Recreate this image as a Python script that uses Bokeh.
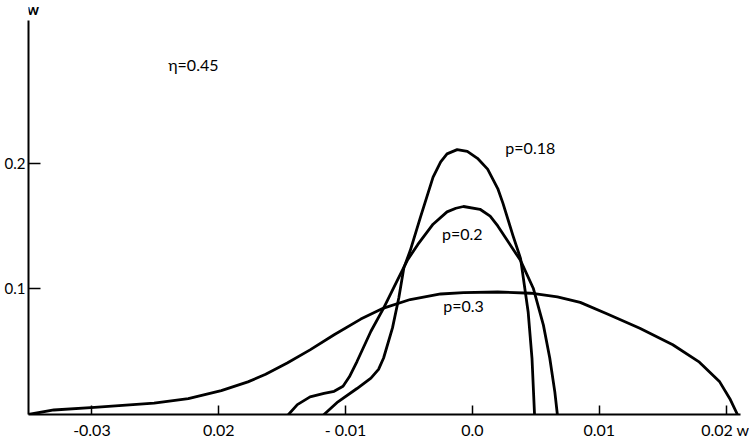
from bokeh.plotting import figure
from bokeh.models import Label, FixedTicker, Range1d
from bokeh.embed import file_html
from bokeh.resources import INLINE

# ---- data ----
x_ticks = [-0.03, -0.02, -0.01, 0.0, 0.01, 0.02]
x_tick_labels = ["-0.03", "0.02", "- 0.01", "0.0", "0.01", "0.02 w"]
y_ticks = [0.1, 0.2]
y_tick_labels = ["0.1", "0.2"]

x_p03 = [-0.0350, -0.0330, -0.0298, -0.0251, -0.0224, -0.0198, -0.0177, -0.0163,
         -0.0146, -0.0128, -0.0109, -0.0088, -0.0070, -0.0049, -0.0025, -0.0007,
         0.0020, 0.0046, 0.0067, 0.0085, 0.0106, 0.0132, 0.0158, 0.0179, 0.0195,
         0.0203, 0.0209]
y_p03 = [0.0, 0.0036, 0.0057, 0.0090, 0.0127, 0.0190, 0.0260, 0.0320,
         0.0410, 0.0515, 0.0635, 0.0760, 0.0848, 0.0916, 0.0960, 0.0971,
         0.0976, 0.0966, 0.0937, 0.0893, 0.0802, 0.0687, 0.0556, 0.0417, 0.0260,
         0.0126, 0.0]

x_p02 = [-0.0145, -0.0138, -0.0128, -0.0117, -0.0109, -0.0102, -0.0097, -0.0091,
         -0.0080, -0.0070, -0.0059, -0.0051, -0.0043, -0.0031, -0.0020, -0.0013,
         -0.0007, 0.0006, 0.0014, 0.0020, 0.0038, 0.0048, 0.0056, 0.0061, 0.0065,
         0.0067]
y_p02 = [0.0, 0.0079, 0.0140, 0.0168, 0.0185, 0.0225, 0.0300, 0.0422,
         0.0663, 0.0848, 0.1073, 0.1233, 0.1355, 0.1516, 0.1614, 0.1643,
         0.1657, 0.1635, 0.1580, 0.1502, 0.1226, 0.1006, 0.0712, 0.0450, 0.0180,
         0.0]

x_p018 = [-0.0117, -0.0106, -0.0091, -0.0080, -0.0074, -0.0070, -0.0063, -0.0058,
          -0.0054, -0.0049, -0.0041, -0.0031, -0.0025, -0.0020, -0.0012, -0.0004,
          0.0004, 0.0012, 0.0020, 0.0024, 0.0032, 0.0038, 0.0044, 0.0047, 0.0049]
y_p018 = [0.0, 0.0101, 0.0207, 0.0290, 0.0360, 0.0450, 0.0690, 0.0930,
          0.1170, 0.1306, 0.1570, 0.1891, 0.2012, 0.2076, 0.2110, 0.2096,
          0.2041, 0.1955, 0.1800, 0.1686, 0.1425, 0.1242, 0.0814, 0.0448, 0.0]

curve_labels = ["p=0.18", "p=0.2", "p=0.3"]
label_x = [0.0026, -0.0008, -0.0007]
label_y = [0.213, 0.144, 0.0868]
param_text = "η=0.45"

FONT = "Lato"
Y_TOP = 0.314      # top of the drawn y axis line

p = figure(width=749, height=441, output_backend="svg", toolbar_location=None,
           x_range=Range1d(-0.0350, 0.02114), y_range=Range1d(0, 0.3298),
           min_border_left=28, min_border_right=9, min_border_top=0,
           min_border_bottom=27)
p.grid.visible = False
p.outline_line_color = None
p.background_fill_color = "white"
p.border_fill_color = "white"

for xs, ys in [(x_p03, y_p03), (x_p02, y_p02), (x_p018, y_p018)]:
    p.line(xs, ys, line_color="black", line_width=2.8, line_join="round",
           line_cap="round")

xa = p.xaxis[0]
xa.ticker = FixedTicker(ticks=x_ticks)
xa.major_label_overrides = {t: s for t, s in zip(x_ticks, x_tick_labels)}
xa.major_tick_in = 9
xa.major_tick_out = 0
xa.minor_tick_in = 0
xa.minor_tick_out = 0
xa.axis_line_width = 2
xa.major_tick_line_width = 1.5
xa.major_label_standoff = 5
xa.major_label_text_font = FONT
xa.major_label_text_font_size = "16px"
xa.major_label_text_color = "black"

ya = p.yaxis[0]
ya.bounds = (0, Y_TOP)
ya.ticker = FixedTicker(ticks=y_ticks)
ya.major_label_overrides = {t: s for t, s in zip(y_ticks, y_tick_labels)}
ya.major_tick_in = 12
ya.major_tick_out = 0
ya.minor_tick_in = 0
ya.minor_tick_out = 0
ya.axis_line_width = 2
ya.major_tick_line_width = 1.5
ya.major_label_standoff = 3
ya.major_label_text_font = FONT
ya.major_label_text_font_size = "15px"
ya.major_label_text_color = "black"

for t, lx, ly in zip(curve_labels, label_x, label_y):
    align = "left" if t == "p=0.18" else "center"
    p.add_layout(Label(x=lx, y=ly, text=t, text_font=FONT, text_font_size="16px",
                       text_align=align, text_baseline="middle", text_color="black"))

p.add_layout(Label(x=-0.0220, y=0.279, text=param_text, text_font=FONT,
                   text_font_size="16px", text_align="center",
                   text_baseline="middle", text_color="black"))
p.add_layout(Label(x=-0.03465, y=Y_TOP + 0.002, text="w", text_font=FONT,
                   text_font_size="15px", text_align="center",
                   text_baseline="bottom", text_color="black", text_font_style="bold"))

open("out.html", "w").write(file_html(p, INLINE))
